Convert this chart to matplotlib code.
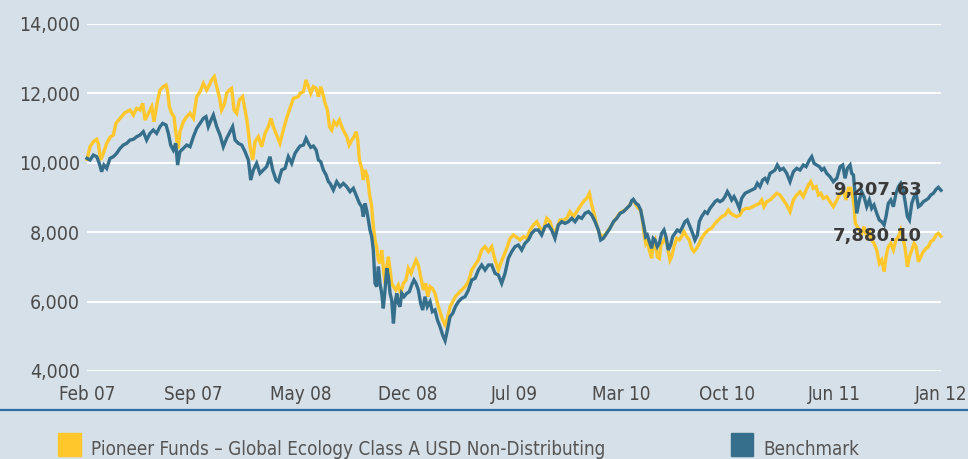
import numpy as np
import matplotlib.pyplot as plt
from matplotlib import font_manager as fm
from matplotlib.lines import Line2D
from matplotlib.patches import Rectangle

# months elapsed since Feb 2007, value of a 10,000 investment
fund_m = [0.0, 0.21, 0.44, 0.67, 0.78, 0.94, 1.13, 1.36, 1.59, 1.82, 2.00, 2.28, 2.63, 2.97, 3.20, 3.43, 3.66, 3.85,
          4.01, 4.24, 4.47, 4.63, 4.86, 5.04, 5.27, 5.46, 5.57, 5.69, 5.85, 6.01, 6.20, 6.31, 6.42, 6.66, 6.89, 7.12,
          7.35, 7.58, 7.81, 8.04, 8.27, 8.45, 8.61, 8.80, 8.96, 9.14, 9.30, 9.47, 9.65, 9.83, 9.99, 10.16, 10.34,
          10.52, 10.75, 10.92, 11.08, 11.26, 11.45, 11.61, 11.84, 12.07, 12.30, 12.53, 12.71, 12.87, 13.10, 13.33,
          13.56, 13.79, 13.98, 14.26, 14.60,
          14.72, 14.95, 15.13, 15.30, 15.46, 15.64, 15.83, 15.99, 16.15, 16.29, 16.45, 16.61, 16.75, 16.91, 17.07,
          17.25, 17.44, 17.60, 17.76, 17.95, 18.11, 18.29, 18.45, 18.59, 18.71, 18.82,
          18.98, 19.09, 19.21, 19.37, 19.51, 19.67, 19.78, 19.90, 20.01, 20.13, 20.24, 20.36, 20.47, 20.59, 20.71,
          20.82, 20.94, 21.05, 21.17, 21.33, 21.51, 21.67, 21.86, 22.04, 22.20, 22.39, 22.55, 22.73, 22.89, 23.05,
          23.24, 23.40, 23.54, 23.70, 23.86, 24.04, 24.21, 24.39, 24.57, 24.74, 24.90, 25.08, 25.27, 25.45, 25.66,
          25.89, 26.12, 26.35, 26.58, 26.81, 27.04, 27.27, 27.50, 27.73, 27.96, 28.19, 28.42, 28.58, 28.77, 29.00,
          29.23, 29.46, 29.69, 29.92, 30.15, 30.38, 30.61, 30.84, 31.07, 31.30, 31.53, 31.76, 31.99, 32.22, 32.45,
          32.68, 32.91, 33.14, 33.37, 33.60, 33.83, 34.06, 34.29, 34.52, 34.71, 34.87, 35.03, 35.21, 35.40, 35.56,
          35.79, 36.02, 36.25, 36.48, 36.71, 36.94, 37.17, 37.40,
          37.63, 37.74, 37.93, 38.09, 38.25, 38.39, 38.48, 38.60, 38.71, 38.85, 39.01, 39.12, 39.24, 39.40, 39.54,
          39.65, 39.82, 39.98, 40.12, 40.28, 40.39, 40.55, 40.74, 40.92, 41.08, 41.24, 41.43, 41.61, 41.77, 41.93,
          42.12, 42.30, 42.46, 42.69, 42.92, 43.15, 43.39, 43.62, 43.85, 44.08, 44.31, 44.47, 44.65, 44.88, 45.11,
          45.30, 45.53, 45.76, 45.99, 46.22, 46.45, 46.61, 46.77, 46.96, 47.19, 47.42, 47.65, 47.88,
          48.11, 48.34, 48.57, 48.80, 49.03, 49.26, 49.49, 49.68, 49.84, 50.00, 50.18, 50.37, 50.53, 50.69, 50.87,
          51.10, 51.33, 51.56, 51.75, 51.91, 52.07, 52.26, 52.44, 52.60, 52.76, 52.90, 52.99, 53.08, 53.22, 53.36,
          53.52, 53.68, 53.87, 54.05, 54.21, 54.37, 54.56, 54.74, 54.90, 55.07, 55.20, 55.36, 55.53, 55.71, 55.89,
          56.06, 56.22, 56.36, 56.52, 56.68, 56.82, 56.98, 57.14, 57.28, 57.44, 57.60, 57.78, 57.97, 58.13, 58.29,
          58.47, 58.66, 58.82, 59.00]
fund_v = [10100, 10464, 10608, 10676, 10560, 10080, 10272, 10560, 10733, 10800, 11137, 11281, 11444, 11521, 11377,
          11569, 11521, 11713, 11233, 11425, 11617, 11185, 11761, 12097, 12193, 12241, 12049, 11617, 11425, 11329,
          10656, 10416, 10897, 11185, 11329, 11425, 11281, 11905, 12049, 12290, 12097, 12241, 12386, 12482, 12193,
          11905, 11521, 11665, 12001, 12097, 12145, 11521, 11425, 11809, 11905, 11521, 11137, 10464, 10080, 10608,
          10752, 10464, 10848, 11041, 11281, 11041, 10800, 10560, 10945, 11281, 11521, 11857, 11905,
          12001, 12049, 12386, 12193, 12001, 12193, 12145, 11905, 12193, 12001, 11713, 11521, 11041, 10944, 11185,
          11089, 11233, 11041, 10896, 10752, 10512, 10656, 10752, 10896, 10656, 10080,
          9841, 9504, 9793, 9600, 9120, 8736, 8159, 7775, 7583, 7199, 7103, 7487, 7007, 6526, 7007,
          7295, 6911, 6526, 6430, 6334, 6478, 6238, 6526, 6622, 6959, 6814, 7007, 7199, 7055, 6718,
          6334, 6526, 6142, 6430, 6382, 6238, 5950, 5710, 5469, 5325, 5518, 5854, 5998, 6142, 6238,
          6334, 6430, 6574, 6910, 7055, 7199, 7487, 7583, 7439, 7583, 7199, 6910, 7103, 7295, 7535,
          7823, 7919, 7852, 7775, 7871, 7823, 8063, 8207, 8303, 8111, 8063, 8400, 8303, 7967, 8111,
          8352, 8352, 8400, 8592, 8448, 8592, 8736, 8880, 8976, 9120, 8784, 8544, 8207, 7967, 7871,
          7919, 8063, 8207, 8352, 8496, 8592, 8640, 8736,
          8880, 8928, 8783, 8687, 8639, 8303, 7967, 7679, 7775, 7487, 7246, 7679, 7775, 7294, 7246,
          7631, 7727, 7871, 7535, 7198, 7294, 7583, 7823, 7775, 7871, 8015, 7871, 7775, 7535, 7439,
          7535, 7679, 7823, 7967, 8063, 8111, 8255, 8351, 8447, 8495, 8639, 8543, 8495, 8447, 8495,
          8639, 8687, 8687, 8735, 8783, 8831, 8928, 8735, 8880, 8928, 9024, 9120, 9072,
          8928, 8783, 8591, 8928, 9072, 9168, 9024, 9216, 9360, 9456, 9264, 9312, 9072, 9120, 8976,
          9024, 8880, 8735, 8880, 9024, 9120, 9216, 8928, 9264, 9264, 9024, 8735, 8255, 8159, 8063,
          7967, 8159, 7871, 8015, 7775, 7679, 7487, 7102, 7198, 6862, 7294, 7583, 7679, 7487, 7775,
          7871, 8063, 7871, 7535, 7006, 7294, 7487, 7679, 7583, 7150, 7294, 7438, 7535, 7583, 7727,
          7775, 7919, 7967, 7880.10]

bench_m = [0.0, 0.21, 0.44, 0.67, 0.85, 1.01, 1.17, 1.36, 1.59, 1.82, 2.05, 2.28, 2.51, 2.74, 2.97, 3.20, 3.43, 3.66,
           3.89, 4.12, 4.35, 4.58, 4.81, 5.04, 5.23, 5.46, 5.62, 5.78, 5.96, 6.13, 6.26, 6.42, 6.66, 6.89, 7.12,
           7.35, 7.58, 7.81, 8.04, 8.22, 8.38, 8.57, 8.73, 8.96, 9.19, 9.42, 9.65, 9.88, 10.06, 10.23, 10.46, 10.69,
           10.92, 11.15, 11.31, 11.49, 11.72, 11.95, 12.18, 12.41, 12.64, 12.83, 13.06, 13.22, 13.45, 13.68, 13.91,
           14.14, 14.37, 14.60,
           14.72, 14.95, 15.13, 15.30, 15.46, 15.64, 15.83, 15.99, 16.15, 16.33, 16.52, 16.68,
           16.79, 17.02, 17.25, 17.48, 17.71, 17.94, 18.17, 18.40, 18.63, 18.82, 18.98, 19.09, 19.21, 19.32, 19.44,
           19.55, 19.67, 19.78, 19.90, 20.01, 20.13, 20.24, 20.36, 20.47, 20.59, 20.71, 20.82, 20.94, 21.05, 21.17,
           21.28, 21.40, 21.51, 21.63, 21.74, 21.90, 22.09, 22.27, 22.43, 22.59, 22.73, 22.89, 23.05, 23.19, 23.35,
           23.51, 23.70, 23.86, 24.04, 24.21, 24.39, 24.57, 24.74, 24.90, 25.08, 25.27, 25.45, 25.66, 25.89, 26.12,
           26.35, 26.58, 26.81, 27.04, 27.27, 27.50, 27.73, 27.96, 28.19, 28.42, 28.65, 28.88, 29.11, 29.34, 29.57,
           29.80, 30.03, 30.26, 30.49, 30.72, 30.95, 31.18, 31.41, 31.64, 31.87, 32.10, 32.33, 32.56, 32.80, 33.03,
           33.26, 33.49, 33.72, 33.95, 34.18, 34.41, 34.64, 34.87, 35.10, 35.33, 35.49, 35.67, 35.90, 36.13, 36.37,
           36.60, 36.83, 37.06, 37.29, 37.52,
           37.63, 37.74, 37.93, 38.09, 38.25, 38.39, 38.48, 38.60, 38.71, 38.85, 39.01, 39.12, 39.24, 39.40, 39.54,
           39.70, 39.86, 40.00, 40.16, 40.32, 40.46, 40.62, 40.78, 40.97, 41.15, 41.31, 41.47, 41.66, 41.84, 42.00,
           42.17, 42.30, 42.46, 42.69, 42.86, 43.04, 43.22, 43.39, 43.55, 43.73, 43.92, 44.08, 44.24, 44.38, 44.54,
           44.70, 44.88, 45.07, 45.23, 45.46, 45.69, 45.92, 46.15, 46.31, 46.49, 46.68, 46.84, 47.00, 47.19, 47.37,
           47.53, 47.69, 47.83,
           47.88, 48.11, 48.34, 48.57, 48.80, 49.03, 49.26, 49.49, 49.68, 49.91, 50.07, 50.23, 50.41, 50.60, 50.76,
           50.92, 51.10, 51.33, 51.56, 51.80, 52.03, 52.21, 52.37, 52.53, 52.72, 52.83, 52.95, 53.06, 53.18, 53.36,
           53.52, 53.68, 53.87, 54.05, 54.21, 54.37, 54.56, 54.74, 54.90, 55.07, 55.20, 55.36, 55.53, 55.71, 55.89,
           56.06, 56.22, 56.36, 56.52, 56.68, 56.82, 56.98, 57.14, 57.28, 57.44, 57.60, 57.78, 57.97, 58.13, 58.29,
           58.47, 58.66, 58.82, 59.00]
bench_v = [10128, 10080, 10224, 10176, 9984, 9744, 9936, 9840, 10128, 10176, 10272, 10416, 10512, 10560, 10656,
           10676, 10752, 10800, 10897, 10656, 10848, 10945, 10848, 11041, 11137, 11089, 10848, 10512, 10368, 10560,
           9936, 10320, 10416, 10512, 10464, 10752, 10993, 11137, 11281, 11329, 11041, 11233, 11377, 11041, 10800,
           10464, 10704, 10897, 11041, 10656, 10560, 10512, 10320, 10080, 9503, 9792, 9984, 9696, 9792, 9888,
           10176, 9792, 9503, 9455, 9792, 9840, 10176, 9984, 10272, 10416,
           10483, 10512, 10704, 10560, 10445, 10483, 10368, 10080, 10032, 9792, 9648, 9455,
           9408, 9216, 9456, 9312, 9408, 9312, 9168, 9264, 9024, 8832, 8736, 8448, 8832, 8640, 8352,
           8063, 7871, 7487, 6526, 6430, 7007, 6526, 6238, 5806, 6334, 6959, 6718, 6238, 6046, 5373,
           5950, 6238, 5950, 5854, 6238, 6142, 6238, 6286, 6478, 6622, 6526, 6334, 5950, 5758, 6142,
           5854, 5998, 5710, 5758, 5469, 5277, 5037, 4874, 5181, 5565, 5662, 5854, 5998, 6094, 6142,
           6334, 6622, 6670, 6910, 7055, 6910, 7055, 7055, 6814, 6766, 6526, 6814, 7247, 7439, 7583,
           7631, 7487, 7679, 7775, 7967, 8063, 8063, 7919, 8159, 8207, 8063, 7823, 8207, 8303, 8255,
           8303, 8400, 8303, 8448, 8400, 8544, 8592, 8496, 8303, 8063, 7775, 7823, 7967, 8111, 8303,
           8400, 8544, 8592, 8688, 8784,
           8908, 8947, 8831, 8783, 8639, 8351, 8159, 7871, 7919, 7727, 7535, 7823, 7775, 7583, 7679,
           7967, 8063, 7871, 7486, 7631, 7871, 7967, 8063, 8015, 8159, 8303, 8351, 8159, 7967, 7775,
           7919, 8303, 8447, 8591, 8543, 8687, 8783, 8880, 8928, 8880, 8928, 9024, 9168, 9072, 8928,
           9024, 8880, 8687, 8976, 9120, 9168, 9216, 9264, 9408, 9312, 9504, 9552, 9456, 9696, 9744,
           9792, 9936, 9840,
           9792, 9840, 9696, 9456, 9744, 9840, 9792, 9936, 9888, 10080, 10176, 9984, 9936, 9888, 9792,
           9840, 9696, 9600, 9456, 9552, 9888, 9936, 9552, 9840, 9936, 9696, 9648, 9120, 8543, 8928,
           9168, 9024, 8735, 8928, 8687, 8783, 8543, 8351, 8303, 8207, 8447, 8831, 8928, 8735, 9120,
           9312, 9408, 9264, 8880, 8447, 8351, 8831, 9024, 9120, 8735, 8783, 8879, 8928, 8976, 9072,
           9120, 9235, 9293, 9207.63]

tick_labels = ["Feb 07", "Sep 07", "May 08", "Dec 08", "Jul 09", "Mar 10", "Oct 10", "Jun 11", "Jan 12"]
y_ticks = [4000, 6000, 8000, 10000, 12000, 14000]
fund_name = "Pioneer Funds – Global Ecology Class A USD Non-Distributing"
bench_name = "Benchmark"

bg = "#D6E0E8"
fund_col = "#FFC72C"
bench_col = "#356F8C"
text_col = "#4a4a4a"


def narrow_font():
    # prefer a condensed face for the axis and legend text
    try:
        path = fm.findfont(fm.FontProperties(family="Liberation Sans Narrow"), fallback_to_default=False)
        if "Narrow" in path:
            return fm.FontProperties(fname=path), 14.5
    except ValueError:
        pass
    path = fm.findfont(fm.FontProperties(family="DejaVu Sans", stretch="condensed"))
    if "Condensed" in path:
        return fm.FontProperties(fname=path), 13.5
    return fm.FontProperties(family="Liberation Sans"), 12.5


font, fsize = narrow_font()

fig = plt.figure(figsize=(9.68, 4.59), dpi=100, facecolor=bg)
ax = fig.add_axes([87 / 968, 1 - 371 / 459, 854 / 968, 347 / 459])
ax.set_facecolor(bg)

for y in y_ticks:
    ax.axhline(y, color="white", lw=1.4, zorder=1)

ax.plot(fund_m, fund_v, color=fund_col, lw=2.4, zorder=3, clip_on=False, solid_joinstyle="miter")
ax.plot(bench_m, bench_v, color=bench_col, lw=2.4, zorder=4, clip_on=False, solid_joinstyle="miter")

ax.set_xlim(0, 59)
ax.set_ylim(4000, 14000)
ax.set_xticks(np.linspace(0, 59, len(tick_labels)))
ax.set_xticklabels(tick_labels, fontproperties=font, fontsize=fsize, color=text_col)
ax.set_yticks(y_ticks)
ax.set_yticklabels([f"{v:,}" for v in y_ticks], fontproperties=font, fontsize=fsize + 0.5, color=text_col)
ax.tick_params(axis="x", length=0, pad=10)
ax.tick_params(axis="y", length=0, pad=5)
for s in ax.spines.values():
    s.set_visible(False)

# closing values written next to the line ends
for v in [bench_v[-1], fund_v[-1]]:
    ax.annotate(f"{v:,.2f}", xy=(bench_m[-1], v), xytext=(-14, 0), textcoords="offset points",
                ha="right", va="center", fontsize=13, fontweight="bold", color="#3a3a3a",
                family="DejaVu Sans", zorder=6)

# rule under the axis and the legend
fig.add_artist(Line2D([0, 1], [1 - 410 / 459] * 2, color="#2F6FA6", lw=1.6, transform=fig.transFigure))
fig.add_artist(Rectangle((58 / 968, 1 - 456 / 459), 23 / 968, 23 / 459, color=fund_col,
                         transform=fig.transFigure))
fig.text(91 / 968, 1 - 455 / 459, fund_name, fontproperties=font, fontsize=fsize, color="#555555",
         va="baseline")
fig.add_artist(Rectangle((731 / 968, 1 - 456 / 459), 22 / 968, 23 / 459, color=bench_col,
                         transform=fig.transFigure))
fig.text(763 / 968, 1 - 455 / 459, bench_name, fontproperties=font, fontsize=fsize, color="#555555",
         va="baseline")

fig.savefig("out.png", dpi=100, facecolor=bg)
